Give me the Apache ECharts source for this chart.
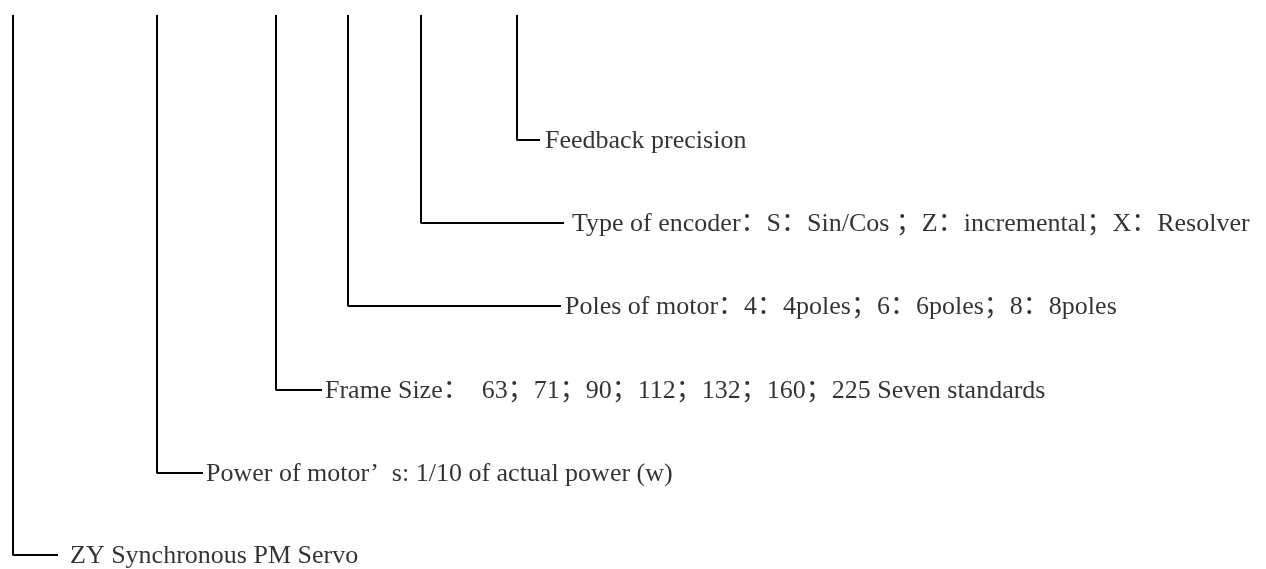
<!DOCTYPE html>
<html>
<head>
<meta charset="utf-8">
<script src="https://cdn.jsdelivr.net/npm/echarts@6/dist/echarts.min.js"></script>
<style>
  html, body { margin: 0; padding: 0; background: #ffffff; }
  #chart { width: 1266px; height: 569px; }
</style>
</head>
<body>
<div id="chart"></div>
<script>
// Diagram content (bottom to top)
const labels = [
  'ZY Synchronous PM Servo',
  'Power of motor’  s: 1/10 of actual power (w)',
  'Frame Size：  63；71；90；112；132；160；225 Seven standards',
  'Poles of motor：4：4poles；6：6poles；8：8poles',
  'Type of encoder：S：Sin/Cos ；Z：incremental；X：Resolver',
  'Feedback precision'
];
// Stem x-positions, branch heights, branch end and label start (data units = pixels of the 1266x569 plane)
const stemX = [13, 157, 276, 348, 421, 517];
const branchY = [555, 473, 390, 306, 223, 140];
const branchEndX = [58, 203, 322, 561, 564, 540];
const labelX = [70, 206, 325, 565, 572, 545];
const stemTopY = 15;

const FONT = "'Liberation Serif', 'Noto Sans CJK SC', serif";

const chart = echarts.init(document.getElementById('chart'), null, { renderer: 'canvas' });

const lineSeries = stemX.map((x, i) => ({
  type: 'line',
  data: [[x, stemTopY], [x, branchY[i]], [branchEndX[i], branchY[i]]],
  symbol: 'none',
  silent: true,
  lineStyle: { color: '#000000', width: 2 },
  animation: false
}));

const labelSeries = {
  type: 'scatter',
  symbolSize: 0,
  silent: true,
  animation: false,
  data: labels.map((t, i) => ({ value: [labelX[i], branchY[i] + 1], name: t })),
  label: {
    show: true,
    position: 'right',
    distance: 0,
    formatter: p => p.name,
    color: '#000000',
    fontFamily: FONT,
    fontSize: 26,
    verticalAlign: 'middle'
  }
};

chart.setOption({
  backgroundColor: '#ffffff',
  animation: false,
  grid: { left: 0, right: 0, top: 0, bottom: 0 },
  xAxis: { type: 'value', min: 0, max: 1266, show: false },
  yAxis: { type: 'value', min: 0, max: 569, inverse: true, show: false },
  series: [...lineSeries, labelSeries]
});
</script>
</body>
</html>
